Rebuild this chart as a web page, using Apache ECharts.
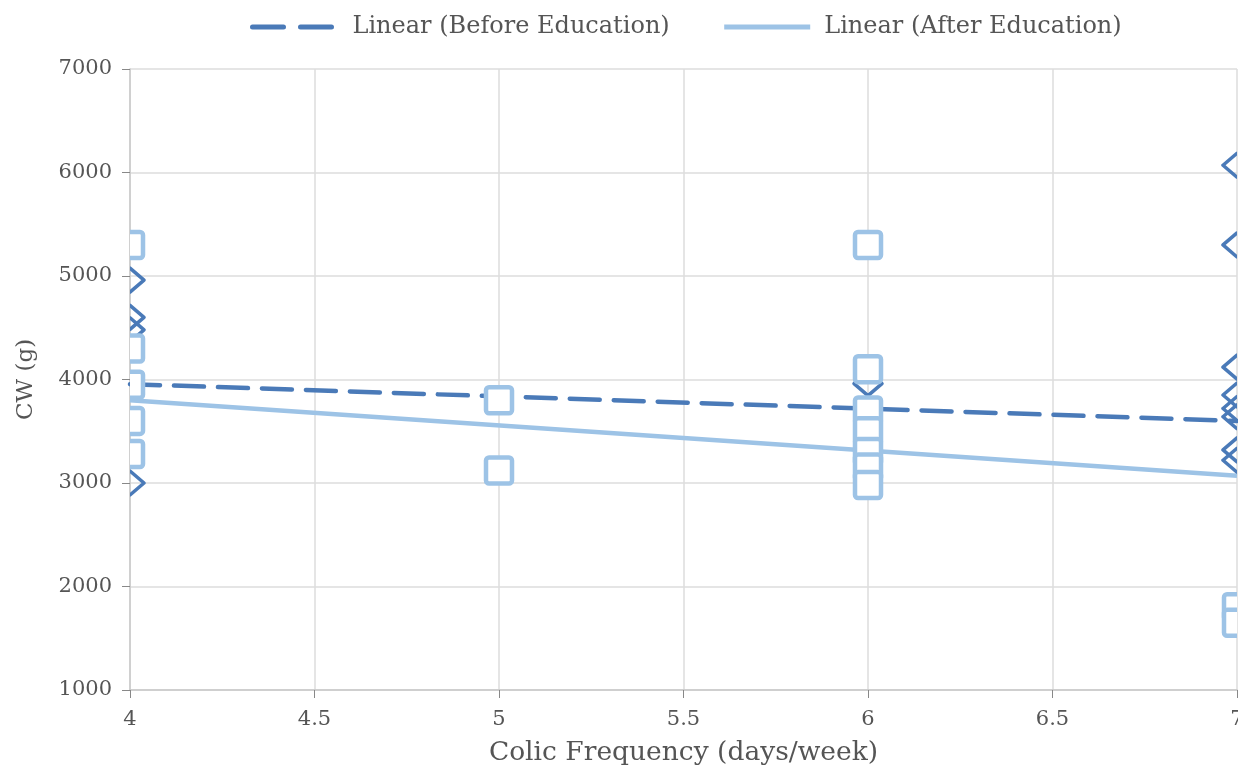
<!DOCTYPE html>
<html>
<head>
<meta charset="utf-8">
<script src="https://cdn.jsdelivr.net/npm/echarts@6/dist/echarts.min.js"></script>
<style>html,body{margin:0;padding:0;background:#fff}#chart{width:1238px;height:768px}</style>
</head>
<body>
<div id="chart"></div>
<script>
// Scatter points: Before Education (diamonds)
const beforeX = [4, 4, 4, 4, 6, 7, 7, 7, 7, 7, 7, 7, 7];
const beforeY = [4960, 4600, 4480, 3000, 3960, 6070, 5300, 4120, 3850, 3720, 3640, 3320, 3220];
// Scatter points: After Education (squares)
const afterX = [4, 4, 4, 4, 4, 5, 5, 6, 6, 6, 6, 6, 6, 6, 7, 7];
const afterY = [5300, 4300, 3950, 3600, 3280, 3800, 3120, 5300, 4100, 3700, 3500, 3300, 3150, 2980, 1800, 1650];
// Linear trend lines
const trendX = [4, 7];
const beforeTrendY = [3955, 3600];
const afterTrendY = [3800, 3070];
// Axis ticks
const xTicks = [4, 4.5, 5, 5.5, 6, 6.5, 7];
const yTicks = [1000, 2000, 3000, 4000, 5000, 6000, 7000];

const BEFORE_COLOR = '#4a7ab8';
const AFTER_COLOR = '#9dc3e6';
const TEXT = '#555';
const FONT = 'DejaVu Serif';

const zip = (xs, ys) => xs.map((x, i) => [x, ys[i]]);

function renderDiamond(params, api) {
  const p = api.coord([api.value(0), api.value(1)]);
  const hw = 14, hh = 12;
  return {
    type: 'polygon',
    shape: { points: [[p[0], p[1] - hh], [p[0] + hw, p[1]], [p[0], p[1] + hh], [p[0] - hw, p[1]]] },
    style: { fill: 'none', stroke: BEFORE_COLOR, lineWidth: 3.5, lineJoin: 'round' }
  };
}
function renderSquare(params, api) {
  const p = api.coord([api.value(0), api.value(1)]);
  const s = 13;
  return {
    type: 'rect',
    shape: { x: p[0] - s, y: p[1] - s, width: 2 * s, height: 2 * s, r: 3 },
    style: { fill: '#fff', stroke: AFTER_COLOR, lineWidth: 4.5 }
  };
}

const chart = echarts.init(document.getElementById('chart'));
chart.setOption({
  animation: false,
  backgroundColor: '#fff',
  textStyle: { fontFamily: FONT },
  grid: { left: 130, right: 1, top: 69, bottom: 78, containLabel: false, outerBoundsMode: 'none' },
  legend: {
    data: [
      { name: 'Linear (Before Education)', lineStyle: { type: [31, 17], width: 5, cap: 'round', color: BEFORE_COLOR } },
      { name: 'Linear (After Education)', lineStyle: { type: 'solid', width: 5, color: AFTER_COLOR } }
    ],
    left: 245, top: 10,
    itemWidth: 86, itemHeight: 14, itemGap: 52,
    itemStyle: { color: 'transparent', borderWidth: 0, opacity: 0 },
    textStyle: { fontFamily: FONT, fontSize: 24, color: TEXT, padding: [0, 0, 0, 9] }
  },
  xAxis: {
    type: 'value', min: xTicks[0], max: xTicks[xTicks.length - 1], interval: 0.5,
    name: 'Colic Frequency (days/week)', nameLocation: 'middle', nameGap: 50,
    nameTextStyle: { fontFamily: FONT, fontSize: 26.5, color: TEXT },
    axisLine: { show: true, lineStyle: { color: '#c8c8c8', width: 1.5 } },
    axisTick: { show: true, length: 8, lineStyle: { color: '#888' } },
    axisLabel: { fontFamily: FONT, fontSize: 21, color: TEXT, margin: 19, formatter: v => String(v) },
    splitLine: { show: true, lineStyle: { color: '#dcdcdc', width: 1.5 } }
  },
  yAxis: {
    type: 'value', min: yTicks[0], max: yTicks[yTicks.length - 1], interval: 1000,
    name: 'CW (g)', nameLocation: 'middle', nameGap: 92,
    nameTextStyle: { fontFamily: FONT, fontSize: 23, color: TEXT },
    axisLine: { show: true, lineStyle: { color: '#c8c8c8', width: 1.5 } },
    axisTick: { show: true, length: 8, lineStyle: { color: '#888' } },
    axisLabel: { fontFamily: FONT, fontSize: 21, color: TEXT, margin: 18, formatter: v => String(v) },
    splitLine: { show: true, lineStyle: { color: '#dcdcdc', width: 1.5 } }
  },
  series: [
    {
      name: 'Linear (Before Education)', type: 'line', symbol: 'none', z: 2,
      data: zip(trendX, beforeTrendY),
      lineStyle: { color: BEFORE_COLOR, width: 4.5, type: [30, 14], cap: 'round' },
      itemStyle: { color: BEFORE_COLOR }
    },
    {
      name: 'Linear (After Education)', type: 'line', symbol: 'none', z: 2,
      data: zip(trendX, afterTrendY),
      lineStyle: { color: AFTER_COLOR, width: 4.5 },
      itemStyle: { color: AFTER_COLOR }
    },
    {
      name: 'Before Education', type: 'custom', clip: true, z: 3,
      renderItem: renderDiamond, data: zip(beforeX, beforeY)
    },
    {
      name: 'After Education', type: 'custom', clip: true, z: 4,
      renderItem: renderSquare, data: zip(afterX, afterY)
    }
  ]
});
</script>
</body>
</html>
